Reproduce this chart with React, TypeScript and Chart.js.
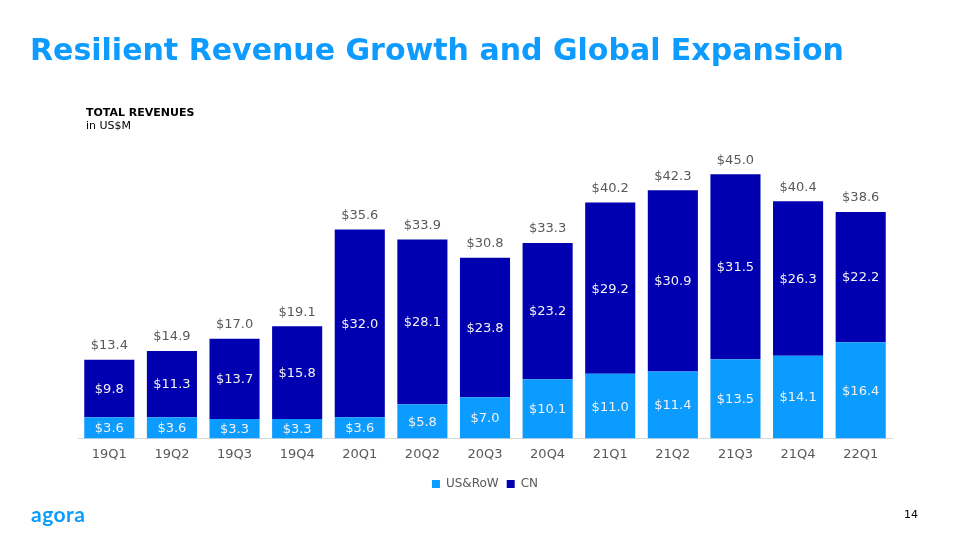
import React, { useEffect, useRef } from "react";
import { Chart, registerables } from "chart.js";

Chart.register(...registerables);

const categories = ["19Q1", "19Q2", "19Q3", "19Q4", "20Q1", "20Q2", "20Q3", "20Q4", "21Q1", "21Q2", "21Q3", "21Q4", "22Q1"];
const usRow = [3.6, 3.6, 3.3, 3.3, 3.6, 5.8, 7.0, 10.1, 11.0, 11.4, 13.5, 14.1, 16.4];
const cn = [9.8, 11.3, 13.7, 15.8, 32.0, 28.1, 23.8, 23.2, 29.2, 30.9, 31.5, 26.3, 22.2];
const totals = [13.4, 14.9, 17.0, 19.1, 35.6, 33.9, 30.8, 33.3, 40.2, 42.3, 45.0, 40.4, 38.6];

const FONT = "'DejaVu Sans', Verdana, sans-serif";
const US_COLOR = "#0C9CFF";
const CN_COLOR = "#0000B0";

const labelPlugin = {
  id: "valueLabels",
  afterDatasetsDraw(chart: any) {
    const ctx = chart.ctx;
    ctx.save();
    ctx.font = `13px ${FONT}`;
    ctx.textAlign = "center";
    ctx.textBaseline = "middle";
    chart.data.datasets.forEach((ds: any, di: number) => {
      const meta = chart.getDatasetMeta(di);
      meta.data.forEach((bar: any, i: number) => {
        const v = ds.data[i];
        ctx.fillStyle = "#F2F2F2";
        ctx.fillText("$" + v.toFixed(1), bar.x, (bar.y + bar.base) / 2 + 1);
      });
    });
    const top = chart.getDatasetMeta(chart.data.datasets.length - 1);
    ctx.fillStyle = "#595959";
    top.data.forEach((bar: any, i: number) => {
      ctx.fillText("$" + totals[i].toFixed(1), bar.x, bar.y - 14);
    });
    ctx.restore();
  },
};

function RevenueChart() {
  const ref = useRef<HTMLCanvasElement>(null);
  useEffect(() => {
    if (!ref.current) return;
    const chart = new Chart(ref.current, {
      type: "bar",
      data: {
        labels: categories,
        datasets: [
          { label: "US&RoW", data: usRow, backgroundColor: US_COLOR, borderWidth: 0 },
          { label: "CN", data: cn, backgroundColor: CN_COLOR, borderWidth: 0 },
        ],
      },
      options: {
        animation: false,
        responsive: false,
        maintainAspectRatio: false,
        layout: { padding: { top: 145, left: 78, right: 68, bottom: 40 } },
        datasets: { bar: { barPercentage: 0.8, categoryPercentage: 1.0 } },
        scales: {
          x: {
            stacked: true,
            grid: { display: false, drawTicks: false },
            border: { display: true, color: "#D9D9D9", width: 1 },
            ticks: { color: "#595959", font: { family: FONT, size: 13 }, padding: 8 },
          },
          y: {
            stacked: true,
            display: false,
            min: 0,
            max: 50,
          },
        },
        plugins: {
          legend: {
            position: "bottom",
            labels: {
              boxWidth: 8,
              boxHeight: 8,
              color: "#595959",
              font: { family: FONT, size: 12 },
              padding: 8,
            },
          },
          tooltip: { enabled: false },
        },
      },
      plugins: [labelPlugin],
    });
    return () => chart.destroy();
  }, []);
  return <canvas ref={ref} width={960} height={540} style={{ position: "absolute", left: 0, top: 0 }} />;
}

export default function App() {
  return (
    <div style={{ position: "fixed", left: 0, top: 0, width: 960, height: 540, background: "#fff", overflow: "hidden", fontFamily: FONT }}>
      <RevenueChart />
      <div style={{ position: "absolute", left: 30, top: 32, fontSize: 30, fontWeight: 700, color: "#0D9BFF", whiteSpace: "nowrap" }}>
        Resilient Revenue Growth and Global Expansion
      </div>
      <div style={{ position: "absolute", left: 86, top: 106, fontSize: 11, fontWeight: 700, color: "#000", lineHeight: "13px" }}>
        TOTAL REVENUES
      </div>
      <div style={{ position: "absolute", left: 86, top: 119, fontSize: 11, color: "#000", lineHeight: "13px" }}>
        in US$M
      </div>
      <div style={{ position: "absolute", left: 31, top: 501, fontSize: 21, fontWeight: 700, color: "#0C9CFF", fontFamily: "Lato, sans-serif", letterSpacing: 0.5 }}>
        agora
      </div>
      <div style={{ position: "absolute", left: 904, top: 508, fontSize: 11, color: "#000" }}>14</div>
    </div>
  );
}
